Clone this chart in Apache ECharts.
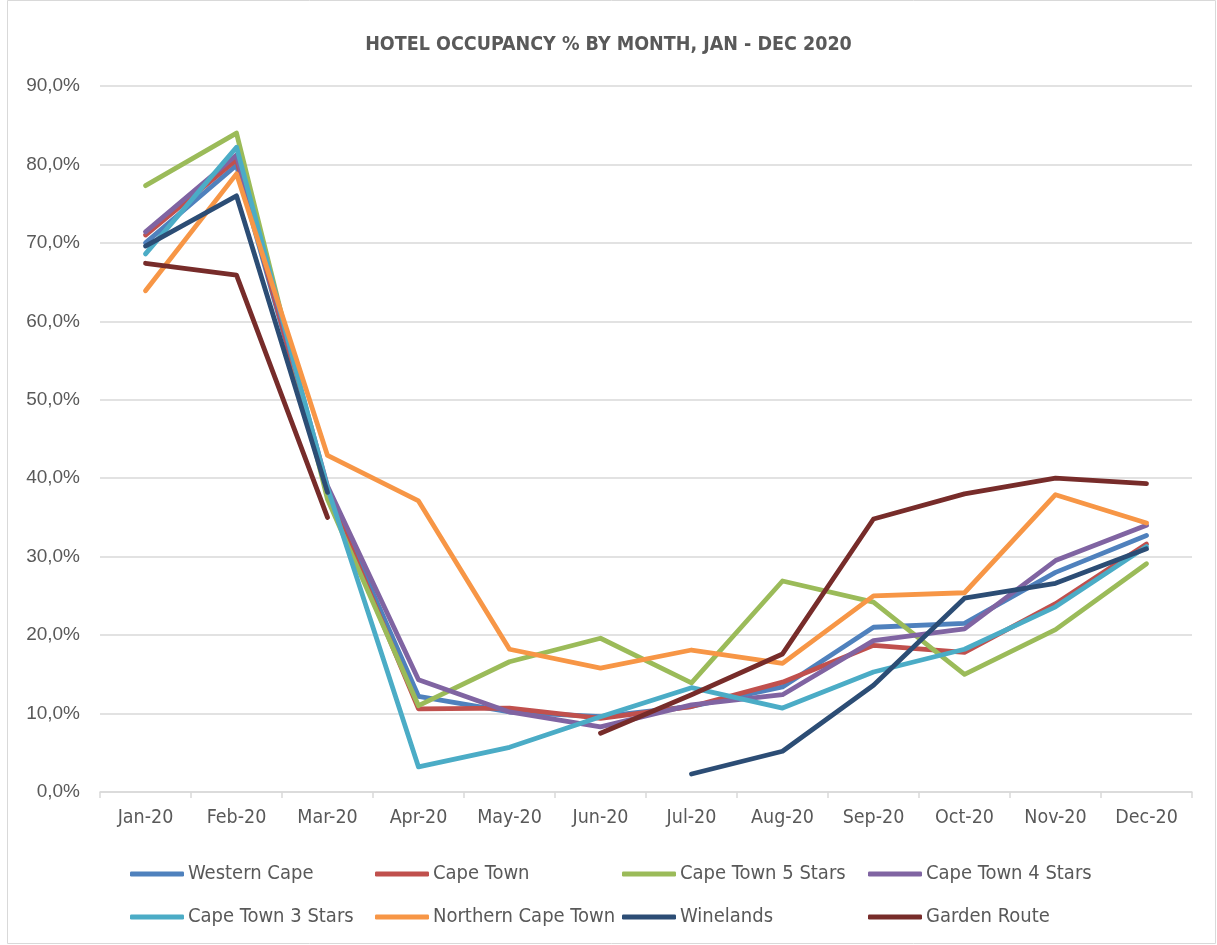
<!DOCTYPE html>
<html>
<head>
<meta charset="utf-8">
<script src="https://cdn.jsdelivr.net/npm/echarts@6/dist/echarts.min.js"></script>
<style>html,body{margin:0;padding:0;background:#fff}#c{width:1217px;height:945px}</style>
</head>
<body>
<div id="c"></div>
<script>
const months = ['Jan-20','Feb-20','Mar-20','Apr-20','May-20','Jun-20','Jul-20','Aug-20','Sep-20','Oct-20','Nov-20','Dec-20'];
const yTicks = [0,10,20,30,40,50,60,70,80,90];
const westernCape     = [70.0, 79.9, 38.5, 12.2, 10.2,  9.6, 10.9, 13.4, 21.0, 21.5, 28.0, 32.7];
const capeTown        = [71.0, 80.6, 38.3, 10.6, 10.7,  9.4, 10.9, 14.0, 18.7, 17.8, 24.0, 31.6];
const capeTown5       = [77.3, 84.0, 37.3, 11.0, 16.6, 19.6, 13.9, 26.9, 24.2, 15.0, 20.7, 29.1];
const capeTown4       = [71.4, 81.2, 39.0, 14.3, 10.2,  8.3, 11.1, 12.4, 19.3, 20.8, 29.5, 34.0];
const capeTown3       = [68.6, 82.2, 38.8,  3.2,  5.7,  9.6, 13.3, 10.7, 15.3, 18.2, 23.6, 31.3];
const northernCape    = [63.9, 78.8, 42.9, 37.1, 18.2, 15.8, 18.1, 16.4, 25.0, 25.4, 37.9, 34.3];
const winelands       = [69.6, 76.0, 38.2, null, null, null,  2.3,  5.2, 13.6, 24.7, 26.6, 31.0];
const gardenRoute     = [67.4, 65.9, 35.0, null, null,  7.5, 12.4, 17.6, 34.8, 38.0, 40.0, 39.3];

const seriesDefs = [
  ['Western Cape', westernCape, '#4F81BD'],
  ['Cape Town', capeTown, '#C0504D'],
  ['Cape Town 5 Stars', capeTown5, '#9BBB59'],
  ['Cape Town 4 Stars', capeTown4, '#8064A2'],
  ['Cape Town 3 Stars', capeTown3, '#4BACC6'],
  ['Northern Cape Town', northernCape, '#F79646'],
  ['Winelands', winelands, '#2C4D75'],
  ['Garden Route', gardenRoute, '#772C2A']
];
const narrow = '"Liberation Sans Narrow", "Arial Narrow", "DejaVu Sans Condensed", sans-serif';
const legendPos = [[125,859],[370,859],[617,859],[863,859],[125,902],[370,902],[617,902],[863,902]];

const chart = echarts.init(document.getElementById('c'), null, {renderer:'canvas'});
chart.setOption({
  animation: false,
  backgroundColor: '#fff',
  graphic: [{type:'rect', shape:{x:7.5,y:0.5,width:1208,height:943}, style:{fill:'none', stroke:'#D9D9D9', lineWidth:1}, silent:true}],
  title: {
    text: 'HOTEL OCCUPANCY % BY MONTH, JAN - DEC 2020',
    left: 'center', top: 30,
    textStyle: {fontFamily: narrow, fontSize: 19.5, fontWeight: 'bold', color: '#595959'}
  },
  legend: seriesDefs.map((d,i)=>({
    data:[d[0]], left: legendPos[i][0], top: legendPos[i][1],
    icon:'roundRect', itemWidth:54, itemHeight:5, itemGap:0,
    textStyle:{fontFamily: narrow, fontSize:20, color:'#595959', padding:[0,0,0,-1]}
  })),
  grid: {left: 100, right: 25, top: 86, bottom: 153, containLabel: false},
  xAxis: {
    type: 'category', data: months, boundaryGap: true,
    axisLine: {lineStyle: {color: '#D9D9D9', width: 1.5}},
    axisTick: {show: true, length: 6, lineStyle: {color: '#D9D9D9', width: 1.5}},
    axisLabel: {fontFamily: narrow, fontSize: 19.5, color: '#595959', margin: 16}
  },
  yAxis: {
    type: 'value', min: 0, max: 90, interval: 10,
    axisLine: {show: false}, axisTick: {show: false},
    splitLine: {lineStyle: {color: '#D9D9D9', width: 1.5}},
    axisLabel: {fontFamily: '"Liberation Sans", Arial, sans-serif', fontSize: 19, color: '#595959', margin: 20,
      formatter: v => v.toFixed(1).replace('.', ',') + '%'}
  },
  series: seriesDefs.map(d=>({
    name: d[0], type: 'line', data: d[1], color: d[2],
    showSymbol: false, symbol: 'none', connectNulls: false,
    lineStyle: {width: 4.8, color: d[2], cap: 'round', join: 'round'}
  }))
});
</script>
</body>
</html>
